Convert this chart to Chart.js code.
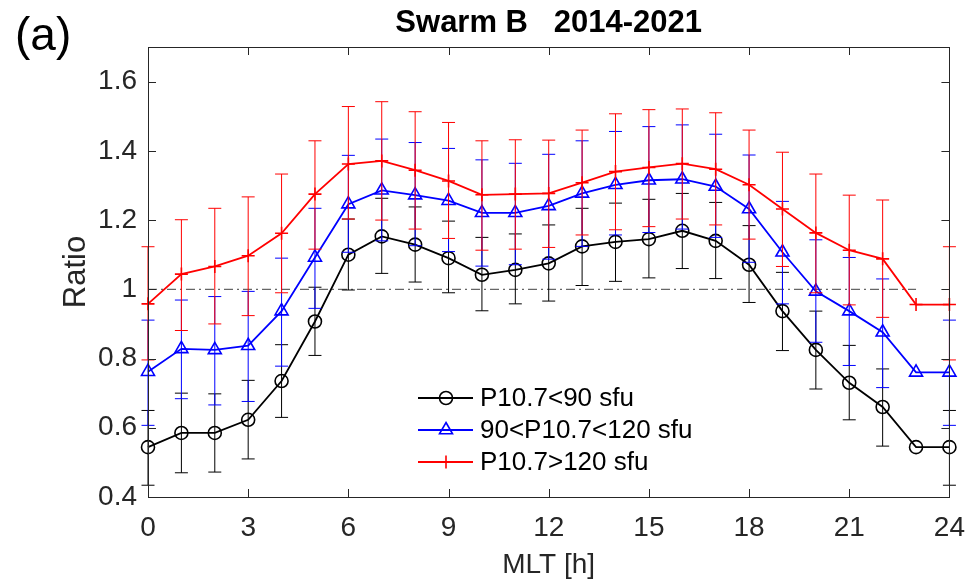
<!DOCTYPE html>
<html>
<head>
<meta charset="utf-8">
<script src="https://cdn.jsdelivr.net/npm/chart.js@4.4.0/dist/chart.umd.min.js"></script>
<style>
html,body{margin:0;padding:0;background:#fff;}
#wrap{width:979px;height:583px;position:relative;}
</style>
</head>
<body>
<div id="wrap"><canvas id="c" width="979" height="583"></canvas></div>
<script>
// ---------- DATA ----------
const mlt = [0,1,2,3,4,5,6,7,8,9,10,11,12,13,14,15,16,17,18,19,20,21,22,23,24];
const xTicks = [0,3,6,9,12,15,18,21,24];
const yTicks = [0.4,0.6,0.8,1,1.2,1.4,1.6];
const seriesLabels = ['P10.7<90 sfu','90<P10.7<120 sfu','P10.7>120 sfu'];

const lowMean  = [0.544,0.585,0.585,0.623,0.735,0.907,1.100,1.153,1.129,1.090,1.042,1.056,1.075,1.124,1.137,1.145,1.169,1.140,1.071,0.937,0.825,0.730,0.660,0.544,0.544];
const lowUpper = [0.650,0.700,0.698,0.737,0.840,1.006,1.203,1.263,1.238,1.197,1.150,1.160,1.186,1.234,1.249,1.260,1.277,1.251,1.184,1.049,0.937,0.838,0.770,null,0.650];
const lowLower = [0.434,0.470,0.472,0.510,0.630,0.809,0.998,1.046,1.021,0.990,0.938,0.958,0.966,1.011,1.023,1.033,1.060,1.031,0.962,0.823,0.712,0.623,0.547,null,0.434];

const midMean  = [0.762,0.828,0.825,0.837,0.937,1.092,1.246,1.286,1.272,1.256,1.221,1.221,1.241,1.277,1.302,1.315,1.318,1.297,1.232,1.107,0.994,0.937,0.876,0.760,0.760];
const midUpper = [0.911,0.969,0.979,0.994,1.090,1.234,1.387,1.434,1.424,1.407,1.374,1.364,1.390,1.429,1.456,1.470,1.475,1.448,1.388,1.254,1.143,1.092,1.030,null,0.911];
const midLower = [0.607,0.684,0.666,0.676,0.778,0.945,1.107,1.140,1.126,1.109,1.067,1.071,1.087,1.124,1.157,1.164,1.174,1.150,1.078,0.958,0.847,0.780,0.716,null,0.607];

const highMean  = [0.958,1.044,1.066,1.097,1.162,1.275,1.362,1.371,1.344,1.313,1.273,1.275,1.277,1.308,1.340,1.352,1.363,1.347,1.302,1.232,1.163,1.113,1.088,0.956,0.956];
const highUpper = [1.123,1.201,1.234,1.267,1.333,1.429,1.528,1.542,1.513,1.482,1.429,1.432,1.431,1.460,1.507,1.519,1.521,1.510,1.460,1.396,1.333,1.272,1.258,null,1.123];
const highLower = [0.796,0.881,0.900,0.924,0.990,1.116,1.203,1.200,1.174,1.147,1.113,1.116,1.121,1.157,1.172,1.181,1.203,1.186,1.145,1.066,0.990,0.955,0.919,null,0.796];

const refLineX = [0,23];
const refLineY = [1,1];

// ---------- BUILD ----------
const FONT = "'Liberation Sans', Arial, Helvetica, sans-serif";
const AXC = '#262626';
const toPts = (xs, ys) => xs.map((x,i)=>({x:x, y:ys[i]}));

const errorSets = [
  {upper: lowUpper,  lower: lowLower},
  {upper: midUpper,  lower: midLower},
  {upper: highUpper, lower: highLower}
];

const datasets = [
  {label: seriesLabels[0], data: toPts(mlt, lowMean), borderColor:'#000000', backgroundColor:'rgba(0,0,0,0)',
   borderWidth:1.8, pointStyle:'circle', pointRadius:6.5, pointBorderWidth:1.6, pointBorderColor:'#000000',
   pointBackgroundColor:'rgba(0,0,0,0)', order:3, clip:false, err:0},
  {label: seriesLabels[1], data: toPts(mlt, midMean), borderColor:'#0000ff', backgroundColor:'rgba(0,0,0,0)',
   borderWidth:1.8, pointStyle:'triangle', pointRadius:7.5, pointBorderWidth:1.6, pointBorderColor:'#0000ff',
   pointBackgroundColor:'rgba(0,0,0,0)', order:2, clip:false, err:1},
  {label: seriesLabels[2], data: toPts(mlt, highMean), borderColor:'#ff0000', backgroundColor:'rgba(0,0,0,0)',
   borderWidth:1.8, pointStyle:'cross', pointRadius:6.5, pointBorderWidth:1.6, pointBorderColor:'#ff0000',
   pointBackgroundColor:'rgba(0,0,0,0)', order:1, clip:false, err:2},
  {label: 'ref', data: toPts(refLineX, refLineY), borderColor:'#404040', borderWidth:1,
   borderDash:[9,4,2,4], pointRadius:0, order:4, clip:false}
];

const errorBarPlugin = {
  id: 'errorBars',
  beforeDatasetDraw(chart, args) {
    const ds = chart.data.datasets[args.index];
    if (ds.err === undefined) return;
    const e = errorSets[ds.err];
    const xs = chart.scales.x, ys = chart.scales.y;
    const ctx = chart.ctx;
    ctx.save();
    ctx.strokeStyle = ds.borderColor;
    ctx.lineWidth = 1;
    ctx.setLineDash([]);
    const cap = 6.5;
    ds.data.forEach((p, i) => {
      if (e.upper[i] == null || e.lower[i] == null) return;
      const px = xs.getPixelForValue(p.x);
      const pu = ys.getPixelForValue(e.upper[i]);
      const pl = ys.getPixelForValue(e.lower[i]);
      ctx.beginPath();
      ctx.moveTo(px, pu); ctx.lineTo(px, pl);
      ctx.moveTo(px - cap, pu); ctx.lineTo(px + cap, pu);
      ctx.moveTo(px - cap, pl); ctx.lineTo(px + cap, pl);
      ctx.stroke();
    });
    ctx.restore();
  }
};

const boxPlugin = {
  id: 'matlabBox',
  afterDraw(chart) {
    const {ctx, chartArea: a, scales} = chart;
    ctx.save();
    ctx.strokeStyle = AXC;
    ctx.lineWidth = 1;
    ctx.setLineDash([]);
    ctx.strokeRect(Math.round(a.left)+0.5, Math.round(a.top)+0.5, Math.round(a.right-a.left), Math.round(a.bottom-a.top));
    const tl = 8;
    ctx.beginPath();
    scales.x.ticks.forEach(t => {
      const px = Math.round(scales.x.getPixelForValue(t.value)) + 0.5;
      ctx.moveTo(px, a.bottom); ctx.lineTo(px, a.bottom - tl);
      ctx.moveTo(px, a.top); ctx.lineTo(px, a.top + tl);
    });
    scales.y.ticks.forEach(t => {
      const py = Math.round(scales.y.getPixelForValue(t.value)) + 0.5;
      ctx.moveTo(a.left, py); ctx.lineTo(a.left + tl, py);
      ctx.moveTo(a.right, py); ctx.lineTo(a.right - tl, py);
    });
    ctx.stroke();

    // legend (inside the axes, no frame)
    const H = Chart.helpers;
    const rows = [0,1,2];
    const lx0 = 418, lx1 = 473, mx = 446, tx = 480, y0 = 398, dy = 32;
    rows.forEach(i => {
      const ds = chart.data.datasets[i];
      const y = y0 + i*dy;
      ctx.strokeStyle = ds.borderColor;
      ctx.lineWidth = ds.borderWidth;
      ctx.beginPath(); ctx.moveTo(lx0, y); ctx.lineTo(lx1, y); ctx.stroke();
      ctx.fillStyle = 'rgba(0,0,0,0)';
      ctx.lineWidth = ds.pointBorderWidth;
      if (H && H.drawPoint) {
        H.drawPoint(ctx, {pointStyle: ds.pointStyle, radius: ds.pointRadius, rotation: 0, borderWidth: ds.pointBorderWidth}, mx, y);
      }
      ctx.fillStyle = '#000';
      ctx.font = '26px ' + FONT;
      ctx.textBaseline = 'middle';
      ctx.textAlign = 'left';
      ctx.fillText(ds.label, tx, y + 1);
    });

    // panel label
    ctx.fillStyle = '#000';
    ctx.font = '46px ' + FONT;
    ctx.textBaseline = 'middle';
    ctx.textAlign = 'left';
    ctx.fillText('(a)', 15, 37);
    ctx.restore();
  }
};

new Chart(document.getElementById('c'), {
  type: 'line',
  data: { datasets: datasets },
  options: {
    responsive: false,
    animation: false,
    devicePixelRatio: 1,
    layout: { padding: {left:0, right:18, top:0, bottom:0} },
    plugins: {
      legend: {display:false},
      tooltip: {enabled:false},
      title: {
        display: true,
        fullSize: false,
        text: 'Swarm B   2014-2021',
        color: '#000',
        font: {family: FONT, size: 31, weight: 'bold', lineHeight: 1.2},
        padding: {top: 5, bottom: 4.8}
      }
    },
    elements: { line: {tension: 0} },
    scales: {
      x: {
        type: 'linear', min: 0, max: 24,
        afterBuildTicks: s => { s.ticks = xTicks.map(v => ({value: v})); },
        afterFit: s => { s.height = 86; },
        grid: {display:false, drawTicks:false},
        border: {display:false},
        ticks: {color: AXC, font: {family: FONT, size: 28}, padding: 14, maxRotation: 0, autoSkip: false,
                callback: v => String(v)},
        title: {display:true, text:'MLT [h]', color: AXC, font: {family: FONT, size: 28, lineHeight: 1.2},
                padding: {top: 0, bottom: 1}}
      },
      y: {
        type: 'linear', min: 0.4, max: 1.7,
        afterBuildTicks: s => { s.ticks = yTicks.map(v => ({value: v})); },
        afterFit: s => { s.width = 148; },
        grid: {display:false, drawTicks:false},
        border: {display:false},
        ticks: {color: AXC, font: {family: FONT, size: 28}, padding: 11, autoSkip: false,
                callback: v => String(v)},
        title: {display:true, text:'Ratio', color: AXC, font: {family: FONT, size: 31, lineHeight: 1.2},
                padding: {top: 58, bottom: 0}}
      }
    }
  },
  plugins: [errorBarPlugin, boxPlugin]
});
</script>
</body>
</html>
